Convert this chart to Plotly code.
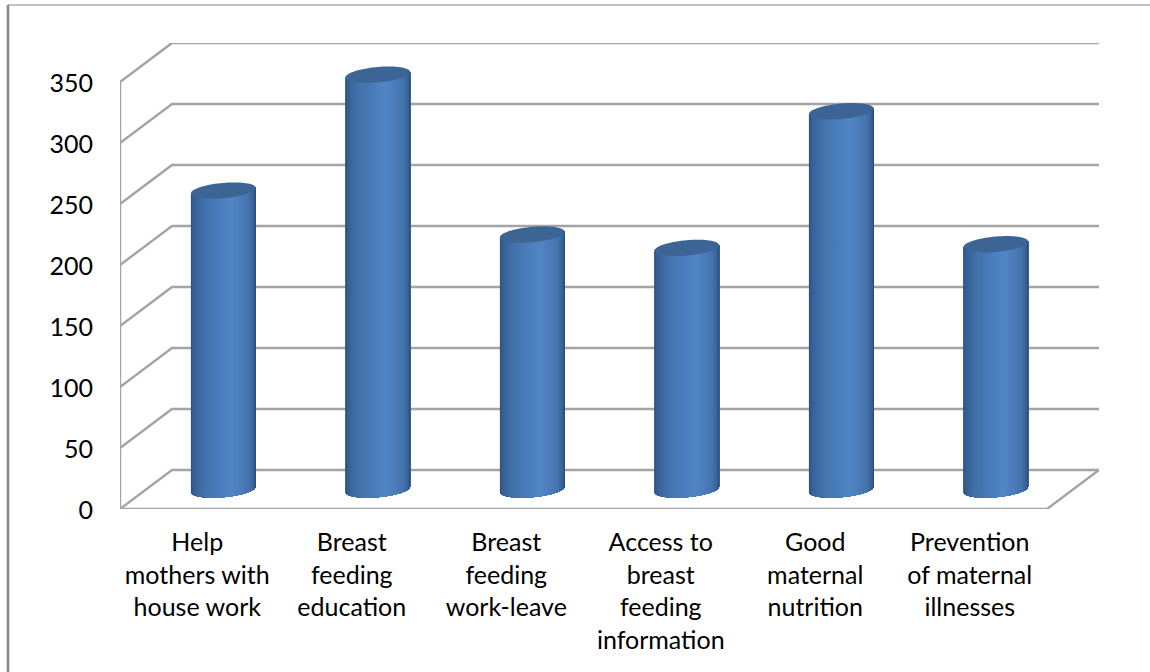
import numpy as np
import plotly.graph_objects as go

categories = [
    "Help<br>mothers with<br>house work",
    "Breast<br>feeding<br>education",
    "Breast<br>feeding<br>work-leave",
    "Access to<br>breast<br>feeding<br>information",
    "Good<br>maternal<br>nutrition",
    "Prevention<br>of maternal<br>illnesses",
]
values = [245, 340, 209, 198, 310, 201]
y_ticks = [0, 50, 100, 150, 200, 250, 300, 350]

# Oblique projection of the chart box, in axis units
DEPTH_X = 0.3366
DEPTH_Y = 32.0
RADIUS_X = 0.197
RADIUS_DEPTH = 0.21

GRID = "#a4a4a4"
FRAME = "#868686"
TEXT = "#000000"
TOP_FACE = "#3c6596"
SHADE_STOPS = [
    (0.00, (36, 66, 106)),
    (0.08, (50, 88, 138)),
    (0.30, (66, 114, 172)),
    (0.58, (81, 133, 198)),
    (0.78, (69, 116, 174)),
    (0.92, (52, 90, 140)),
    (1.00, (34, 62, 98)),
]
N_STRIPS = 48

fig = go.Figure()


def wall_line(xs, ys):
    fig.add_trace(go.Scatter(
        x=xs, y=ys, mode="lines", line=dict(color=GRID, width=2.4),
        hoverinfo="skip", showlegend=False, cliponaxis=False,
    ))


# Floor edges, side wall and the gridlines that wrap around the back
n_cat = len(categories)
wall_line([0, 0], [0, y_ticks[-1]])
wall_line([0, n_cat, n_cat + DEPTH_X], [0, 0, DEPTH_Y])
for t in y_ticks:
    wall_line([0, DEPTH_X, n_cat + DEPTH_X], [t, t + DEPTH_Y, t + DEPTH_Y])


def shade(pos):
    stops = [s[0] for s in SHADE_STOPS]
    rgb = [np.interp(pos, stops, [s[1][i] for s in SHADE_STOPS]) for i in range(3)]
    return "rgb({:.0f},{:.0f},{:.0f})".format(*rgb)


# Ellipse of a cylinder end: a circle lying in the sheared floor plane
kx = RADIUS_DEPTH * DEPTH_X
ky = RADIUS_DEPTH * DEPTH_Y
silhouette = np.hypot(RADIUS_X, kx)
phi = np.arctan2(kx, RADIUS_X)


def end_edges(theta):
    a = ky * np.sin(phi + theta)
    b = ky * np.sin(phi - theta)
    return np.minimum(a, b), np.maximum(a, b)


centers = [i + 0.5 + DEPTH_X / 2 for i in range(n_cat)]
base = DEPTH_Y / 2

# Cylinder walls: each strip runs to the right silhouette and the next one
# paints over it, so no seams show between neighbouring shades
edges = np.linspace(np.pi, 0, N_STRIPS + 1)
for s in range(N_STRIPS):
    th = np.linspace(edges[s], 0, 40)
    dx = silhouette * np.cos(th)
    lo, hi = end_edges(th)
    mid = (lo + hi) / 2
    xs, ys = [], []
    for c, v in zip(centers, values):
        xs += list(c + dx) + list(c + dx[::-1]) + [None]
        ys += list(base + lo) + list(base + v + mid[::-1]) + [None]
    fig.add_trace(go.Scatter(
        x=xs, y=ys, mode="none", fill="toself", fillcolor=shade((s + 0.5) / N_STRIPS),
        hoverinfo="skip", showlegend=False, cliponaxis=False,
    ))

# Top faces
t = np.linspace(0, 2 * np.pi, 73)
xs, ys = [], []
for c, v in zip(centers, values):
    xs += list(c + RADIUS_X * np.cos(t) + kx * np.sin(t)) + [None]
    ys += list(base + v + ky * np.sin(t)) + [None]
fig.add_trace(go.Scatter(
    x=xs, y=ys, mode="none", fill="toself", fillcolor=TOP_FACE,
    hoverinfo="skip", showlegend=False, cliponaxis=False,
))

font = dict(family="Lato, Carlito, Calibri, sans-serif", size=25, color=TEXT)

fig.update_layout(
    width=1150, height=672,
    margin=dict(l=120, r=51, t=43, b=163, autoexpand=False),
    paper_bgcolor="white", plot_bgcolor="white",
    showlegend=False,
    xaxis=dict(
        range=[0, 979 / 154.5],
        tickmode="array",
        tickvals=[i + 0.5 for i in range(n_cat)],
        ticktext=categories,
        showgrid=False, zeroline=False, showline=False,
        ticks="", tickfont=font, tickangle=0, automargin=False,
        ticklabelstandoff=16,
    ),
    yaxis=dict(
        range=[0, 466 / 1.22],
        tickmode="array",
        tickvals=y_ticks,
        ticktext=[str(v) for v in y_ticks],
        showgrid=False, zeroline=False, showline=False,
        ticks="", tickfont=font, automargin=False,
        ticklabelstandoff=26, ticklabelshift=1,
    ),
    shapes=[
        dict(type="line", xref="paper", yref="paper",
             x0=-112 / 979, x1=1030 / 979, y0=(509 - 5) / 466, y1=(509 - 5) / 466,
             line=dict(color=FRAME, width=1)),
        dict(type="line", xref="paper", yref="paper",
             x0=-112 / 979, x1=-112 / 979, y0=-163 / 466, y1=(509 - 5) / 466,
             line=dict(color=FRAME, width=2.5)),
    ],
)

fig.write_html("out.html")
